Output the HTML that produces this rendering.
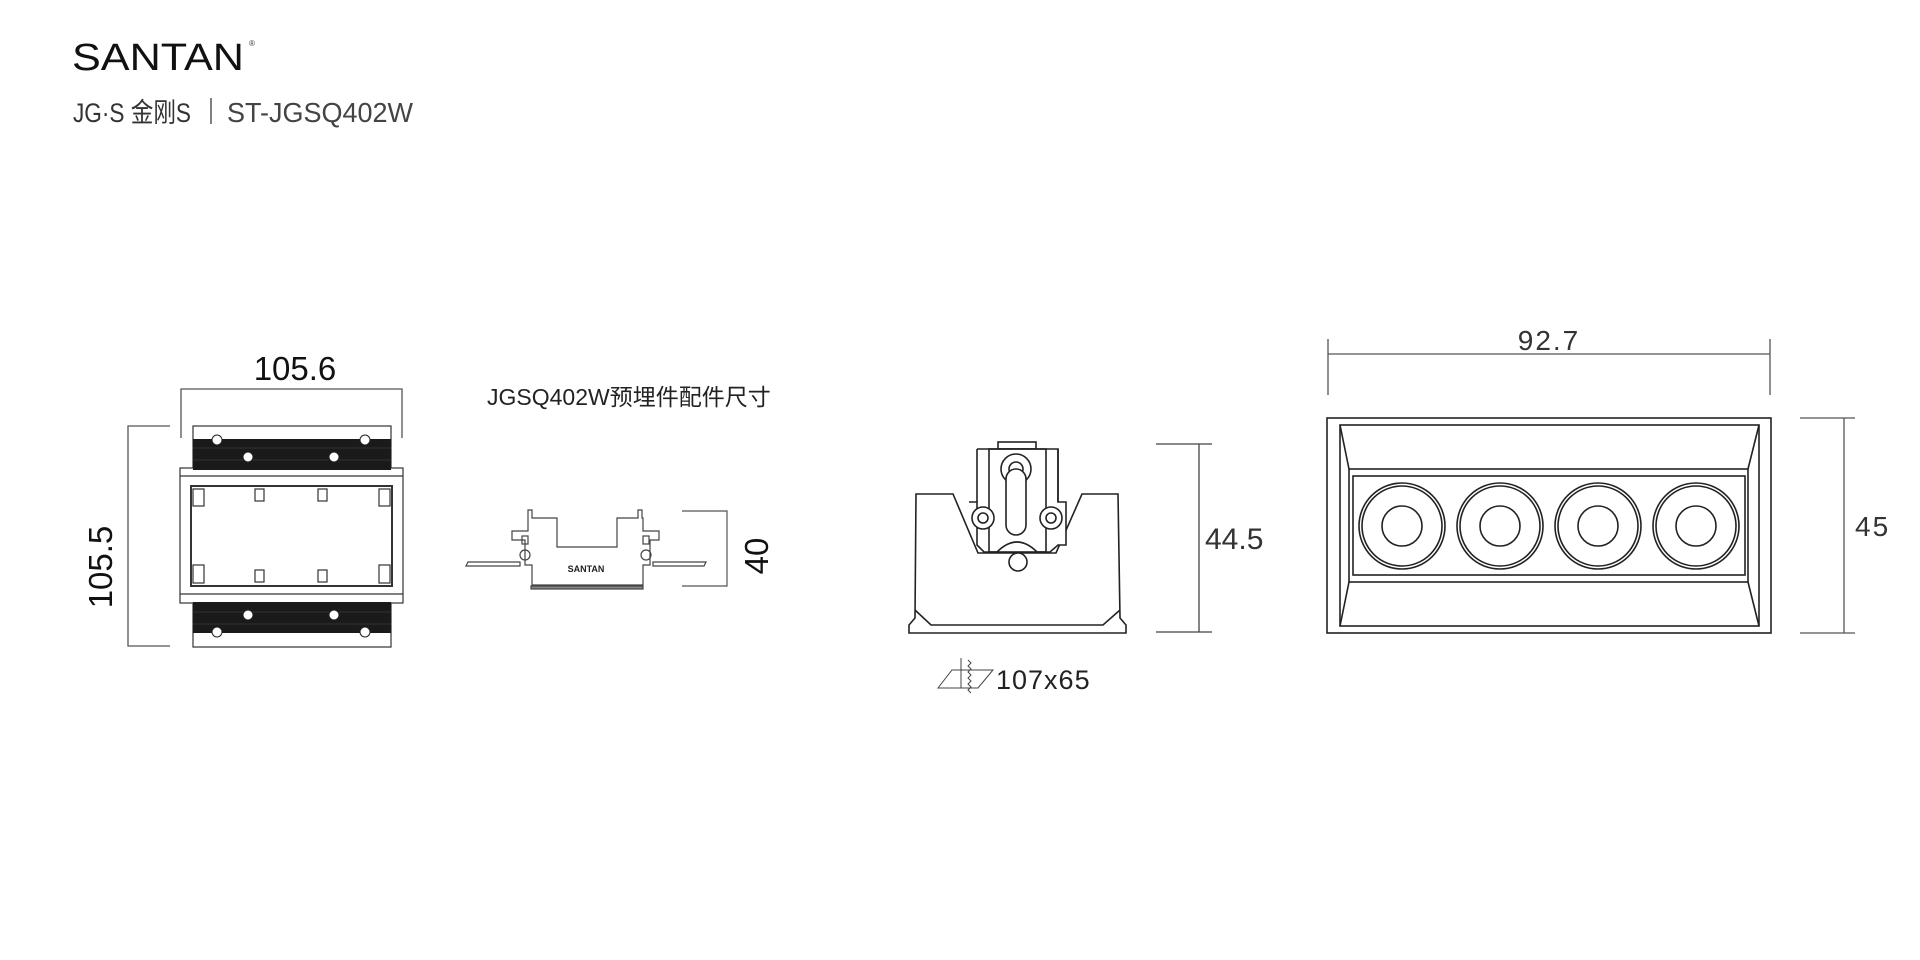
<!DOCTYPE html>
<html><head><meta charset="utf-8"><style>
html,body{margin:0;padding:0;background:#fff;width:1920px;height:960px;overflow:hidden}
svg{display:block}
text{font-family:"Liberation Sans","Noto Sans CJK SC",sans-serif}
</style></head><body>
<svg width="1920" height="960" viewBox="0 0 1920 960" xmlns="http://www.w3.org/2000/svg">
<!-- header -->
<text x="72" y="70" font-size="38" fill="#111" textLength="172" lengthAdjust="spacingAndGlyphs" style="font-weight:300">SANTAN</text>
<text x="249" y="46" font-size="8" fill="#333">®</text>
<text x="73" y="122" font-size="27" fill="#333" textLength="118" lengthAdjust="spacingAndGlyphs">JG·S 金刚S</text>
<line x1="211" y1="98" x2="211" y2="124" stroke="#555" stroke-width="1.5"/>
<text x="227" y="122" font-size="28" fill="#444" textLength="186" lengthAdjust="spacingAndGlyphs">ST-JGSQ402W</text>

<g fill="none" stroke="#555" stroke-width="1.3">
<polyline points="181,438 181,389 402,389 402,438"/>
<polyline points="170,426 128,426 128,646 170,646"/>
</g>
<text x="295" y="380" font-size="33" fill="#111" text-anchor="middle">105.6</text>
<text transform="translate(112,567) rotate(-90)" font-size="33" fill="#111" text-anchor="middle">105.5</text>

<!-- left plan -->
<g stroke="#333" stroke-width="1.2" fill="none">
<rect x="193" y="426" width="198" height="221"/>
<rect x="180" y="468" width="223" height="135" fill="#fff"/>
<line x1="180" y1="476" x2="403" y2="476"/>
<line x1="180" y1="594" x2="403" y2="594"/>
<rect x="191" y="486" width="201" height="100" stroke-width="2"/>
<rect x="193" y="489" width="11" height="17"/><rect x="379" y="489" width="11" height="17"/>
<rect x="193" y="565" width="11" height="18"/><rect x="379" y="565" width="11" height="18"/>
<rect x="255" y="489" width="9" height="12"/><rect x="318" y="489" width="9" height="12"/>
<rect x="255" y="570" width="9" height="12"/><rect x="318" y="570" width="9" height="12"/>
</g>
<rect x="193" y="439" width="198" height="31" fill="#1a1a1a"/>
<rect x="193" y="602" width="198" height="31" fill="#1a1a1a"/>
<g stroke="#444" stroke-width="1" opacity=".6"><line x1="193" y1="448" x2="391" y2="448"/><line x1="193" y1="460" x2="391" y2="460"/><line x1="193" y1="612" x2="391" y2="612"/><line x1="193" y1="624" x2="391" y2="624"/></g>
<g fill="#fff" stroke="#222" stroke-width="1">
<circle cx="217" cy="440" r="5"/><circle cx="365" cy="440" r="5"/><circle cx="248" cy="457" r="5"/><circle cx="334" cy="457" r="5"/>
<circle cx="248" cy="615" r="5"/><circle cx="334" cy="615" r="5"/><circle cx="217" cy="632" r="5"/><circle cx="365" cy="632" r="5"/>
</g>

<!-- middle part -->
<text x="487" y="405" font-size="23" fill="#222">JGSQ402W预埋件配件尺寸</text>
<g stroke="#444" stroke-width="1.2" fill="none">
<path d="M528,518 V510 H532 V518 H557 V547 H617 V518 H638 V510 H642 V518 H643 V531 H659 V540 H650 V565 H643 V585 H532 V565 H525 V540 H512 V531 H528 Z" fill="#fff"/>
<rect x="531" y="586" width="112" height="3" fill="#888"/>
<rect x="522" y="536" width="6" height="8"/><rect x="643" y="536" width="6" height="8"/>
<circle cx="525" cy="555" r="5"/><circle cx="646" cy="555" r="5"/>
<path d="M468,562 H520 V566 H466 Z"/><path d="M653,562 H706 L704,566 H653 Z"/>
<polyline points="682,511 727,511 727,586 682,586" stroke="#555"/>
</g>
<text x="586" y="572" font-size="9" font-weight="bold" fill="#222" text-anchor="middle">SANTAN</text>
<text transform="translate(768,556) rotate(-90)" font-size="33" fill="#111" text-anchor="middle">40</text>

<!-- side view -->
<g stroke="#222" stroke-width="1.6" fill="#fff">
<path d="M916,494 H953 L978,553 H1056 L1082,494 H1118 L1120,618 L1126,625 V633 H909 V625 L915,618 Z"/>
<path d="M915,610 L931,625 H1103 L1120,610" fill="none"/>
<rect x="998" y="442" width="38" height="7"/>
<path d="M977,449 H1058 V502 H1066 V545 L1058,545 1050,552 H1037 Q1017,532 997,552 H984 L977,545 V502 H969" fill="#fff"/>
<path d="M977,449 V502 M1058,449 V502" fill="none"/>
<rect x="989" y="449" width="57" height="103" fill="none"/>
<circle cx="1016" cy="469" r="15"/><circle cx="1016" cy="469" r="7"/>
<rect x="1006" y="469" width="20" height="66" rx="10"/>
<circle cx="983" cy="518" r="11"/><circle cx="983" cy="518" r="5"/>
<circle cx="1051" cy="518" r="11"/><circle cx="1051" cy="518" r="5"/>
<circle cx="1018" cy="562" r="9"/>
</g>
<g stroke="#444" stroke-width="1.3" fill="none">
<line x1="1156" y1="444" x2="1212" y2="444"/><line x1="1156" y1="632" x2="1212" y2="632"/><line x1="1199" y1="444" x2="1199" y2="632"/>
<path d="M938,688 L952,670 H993 L978,688 Z M961,688 V658 M968,660 l3,3 -3,3 3,3 -3,3 3,3 -3,3 3,3 -3,3 3,3 -3,3 3,3" stroke-width="1"/>
</g>
<text x="1205" y="549" font-size="30" fill="#333" style="font-weight:300">44.5</text>
<text x="996" y="689" font-size="27" fill="#222" letter-spacing="1">107x65</text>

<!-- front view -->
<g stroke="#555" stroke-width="1.3" fill="none">
<line x1="1328" y1="339" x2="1328" y2="395"/><line x1="1770" y1="339" x2="1770" y2="395"/><line x1="1328" y1="354" x2="1770" y2="354"/>
<line x1="1800" y1="418" x2="1855" y2="418"/><line x1="1800" y1="633" x2="1855" y2="633"/><line x1="1844" y1="418" x2="1844" y2="633"/>
</g>
<text x="1549" y="350" font-size="28" fill="#333" text-anchor="middle" letter-spacing="2">92.7</text>
<text x="1855" y="536" font-size="28" fill="#333" letter-spacing="2">45</text>
<g stroke="#222" stroke-width="1.6" fill="none">
<rect x="1327" y="418" width="444" height="215"/>
<rect x="1340" y="425" width="419" height="201"/>
<path d="M1340,425 L1349,469 M1759,425 L1748,469 M1340,626 L1349,582 M1759,626 L1748,582"/>
<rect x="1349" y="469" width="399" height="113"/>
<rect x="1353" y="476" width="392" height="99"/>
<circle cx="1402" cy="526" r="43"/><circle cx="1402" cy="526" r="40"/><circle cx="1402" cy="526" r="20"/>
<circle cx="1500" cy="526" r="43"/><circle cx="1500" cy="526" r="40"/><circle cx="1500" cy="526" r="20"/>
<circle cx="1598" cy="526" r="43"/><circle cx="1598" cy="526" r="40"/><circle cx="1598" cy="526" r="20"/>
<circle cx="1696" cy="526" r="43"/><circle cx="1696" cy="526" r="40"/><circle cx="1696" cy="526" r="20"/>
</g>
</svg>
</body></html>
